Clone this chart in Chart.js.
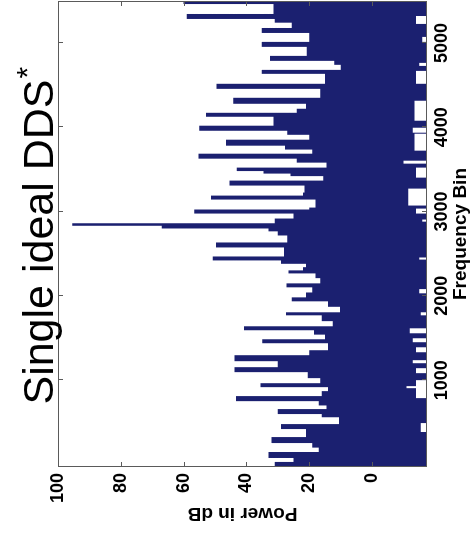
<!DOCTYPE html>
<html>
<head>
<meta charset="utf-8">
<script src="https://cdn.jsdelivr.net/npm/chart.js@4/dist/chart.umd.min.js"></script>
<style>
  html, body { margin: 0; padding: 0; background: #fff; overflow: hidden; }
  body { width: 472px; height: 541px; position: relative; }
  #wrap {
    position: absolute; left: 0; top: 0;
    width: 541px; height: 472px;
    transform-origin: 0 0;
    transform: translate(0px, 541px) rotate(-90deg);
  }
</style>
</head>
<body>
<div id="wrap"><canvas id="c" width="541" height="472"></canvas></div>
<script>
// ---------- data ----------
const chartTitle = 'Single ideal DDS';
const xTitle = 'Frequency Bin';
const yTitle = 'Power in dB';
const freqTicks = [1000, 2000, 3000, 4000, 5000];
const powerTicks = [0, 20, 40, 60, 80, 100];

// upper envelope: start bin of each step (last entry = end bin) and its level in dB
const peakBinEdges = [-30, 30, 77, 148, 200, 254, 325, 420, 479, 560, 598, 657, 700, 751, 811, 870, 917, 964, 1024, 1095,
  1154, 1225, 1296, 1355, 1438, 1485, 1540, 1592, 1639, 1700, 1769, 1805, 1870, 1935, 1982, 2040, 2101, 2148, 2210, 2266,
  2302, 2340, 2380, 2420, 2467, 2574, 2633, 2716, 2765, 2799, 2831, 2861, 2917, 2976, 3024, 3047, 3142, 3189, 3225, 3308,
  3367, 3420, 3450, 3480, 3521, 3580, 3627, 3686, 3735, 3781, 3852, 3910, 3958, 4018, 4124, 4171, 4219, 4278, 4349, 4455,
  4515, 4633, 4680, 4740, 4787, 4846, 4953, 5012, 5118, 5177, 5240, 5284, 5343, 5461, 5497];
const peakPowerDb = [31, 25, 33, 17, 19, 32, 21, 29, 10.5, 16, 30, 14.5, 17, 43.3, 16, 14, 35.5, 16.5, 20.5, 43.8,
  30, 43.8, 20, 14, 35, 15, 18.5, 40.8, 12.5, 16, 27.4, 10.2, 14, 25.6, 21, 19, 27.2, 16.5, 18, 26.6,
  22, 21, 29, 50.7, 28, 49.7, 27, 30, 33, 67, 95.5, 31, 25, 56.6, 20, 18, 51.3, 22, 21.5, 45.4,
  15.5, 26, 34.6, 43.1, 14.5, 24, 55.3, 19, 27.7, 46.5, 20, 27, 55, 31.4, 52.9, 24, 21, 44.2, 16.5, 49.5,
  15, 35.1, 10, 12, 32.5, 20.8, 35.1, 20, 35.1, 25.6, 31, 59, 31.4, 60];

// lower envelope: start bin of each step (last entry = end bin) and its level in dB
const floorBinEdges = [-30, 385, 491, 787, 905, 929, 1000, 1083, 1142, 1201, 1237, 1331, 1390, 1450, 1497, 1556, 1615,
  1769, 1805, 2030, 2080, 2430, 2455, 2880, 2905, 2976, 3035, 3071, 3272, 3402, 3521, 3568, 3603, 3722, 3923, 3935,
  3994, 4077, 4314, 4515, 4668, 4727, 4763, 5012, 5071, 5225, 5319, 5497];
const floorPowerDb = [-30, -15.5, -30, -14, -11, -14, -30, -14, -30, -13, -30, -14, -30, -13, -30, -12, -30,
  -15.5, -30, -15, -30, -15, -30, -16, -30, -14, -30, -11.5, -30, -14, -30, -10, -30, -13.5, -30, -13,
  -30, -13.5, -30, -14, -30, -15, -30, -16, -30, -14, -30];

const freqMin = -30, freqMax = 5497;
const powerMin = -17.5, powerMax = 100;

// ---------- helpers ----------
function stepPoints(edges, vals) {
  const pts = vals.map((v, i) => ({ x: edges[i], y: v }));
  pts.push({ x: edges[edges.length - 1], y: vals[vals.length - 1] });
  return pts;
}

const FONT = '"Liberation Sans", Arial, Helvetica, sans-serif';
const NAVY = 'rgb(27,32,112)';

const boxPlugin = {
  id: 'matlabBox',
  afterDatasetsDraw(chart) {
    const { ctx, chartArea: a, scales: { x, y } } = chart;
    ctx.save();
    ctx.strokeStyle = '#5a5a5a';
    ctx.lineWidth = 1;
    ctx.strokeRect(a.left + 0.5, a.top + 0.5, a.right - a.left - 1, a.bottom - a.top - 1);
    ctx.beginPath();
    const tl = 5;
    freqTicks.forEach(v => {
      const p = Math.round(x.getPixelForValue(v)) + 0.5;
      ctx.moveTo(p, a.top); ctx.lineTo(p, a.top + tl);
      ctx.moveTo(p, a.bottom); ctx.lineTo(p, a.bottom - tl);
    });
    powerTicks.forEach(v => {
      const p = Math.round(y.getPixelForValue(v)) + 0.5;
      ctx.moveTo(a.left, p); ctx.lineTo(a.left + tl, p);
      ctx.moveTo(a.right, p); ctx.lineTo(a.right - tl, p);
    });
    ctx.stroke();
    ctx.restore();
  }
};

const titlePlugin = {
  id: 'supTitle',
  afterDraw(chart) {
    const { ctx, chartArea: a } = chart;
    ctx.save();
    ctx.fillStyle = '#000';
    ctx.textBaseline = 'alphabetic';
    ctx.font = '43px ' + FONT;
    const w = ctx.measureText(chartTitle).width;
    const cx = (a.left + a.right) / 2 - 8;
    const x0 = cx - w / 2;
    ctx.textAlign = 'left';
    ctx.fillText(chartTitle, x0, 53);
    ctx.font = '30px ' + FONT;
    ctx.fillText('*', x0 + w + 1, 37);
    ctx.restore();
  }
};

new Chart(document.getElementById('c'), {
  type: 'line',
  data: {
    datasets: [
      {
        label: 'max',
        data: stepPoints(peakBinEdges, peakPowerDb),
        stepped: true,
        borderWidth: 0,
        borderColor: NAVY,
        backgroundColor: NAVY,
        pointRadius: 0,
        fill: '+1'
      },
      {
        label: 'min',
        data: stepPoints(floorBinEdges, floorPowerDb),
        stepped: true,
        borderWidth: 0,
        borderColor: NAVY,
        backgroundColor: NAVY,
        pointRadius: 0,
        fill: false
      }
    ]
  },
  options: {
    responsive: false,
    animation: false,
    devicePixelRatio: 1,
    layout: { padding: { top: 58, right: 1, left: 0, bottom: 0 } },
    plugins: {
      legend: { display: false },
      title: { display: false },
      tooltip: { enabled: false }
    },
    scales: {
      x: {
        type: 'linear',
        position: 'bottom',
        min: freqMin,
        max: freqMax,
        afterBuildTicks: s => { s.ticks = freqTicks.map(v => ({ value: v })); },
        afterFit: s => { s.height = 45; },
        grid: { display: false, drawTicks: false },
        border: { display: false },
        ticks: {
          autoSkip: false, maxRotation: 0, padding: 4, color: '#000',
          callback: v => String(v),
          font: { family: FONT, size: 18, weight: 'bold' }
        },
        title: {
          display: true, text: xTitle, color: '#000',
          font: { family: FONT, size: 19, weight: 'bold' },
          padding: { top: 0, bottom: 0 }
        }
      },
      y: {
        type: 'linear',
        position: 'left',
        min: powerMin,
        max: powerMax,
        afterBuildTicks: s => { s.ticks = powerTicks.map(v => ({ value: v })); },
        afterFit: s => { s.width = 74; },
        grid: { display: false, drawTicks: false },
        border: { display: false },
        ticks: {
          padding: 6, color: '#000',
          callback: v => String(v),
          font: { family: FONT, size: 18, weight: 'bold' }
        },
        title: {
          display: true, text: yTitle, color: '#000',
          font: { family: FONT, size: 19, weight: 'bold' },
          padding: { top: 16, bottom: 0 }
        }
      }
    }
  },
  plugins: [boxPlugin, titlePlugin]
});
</script>
</body>
</html>
